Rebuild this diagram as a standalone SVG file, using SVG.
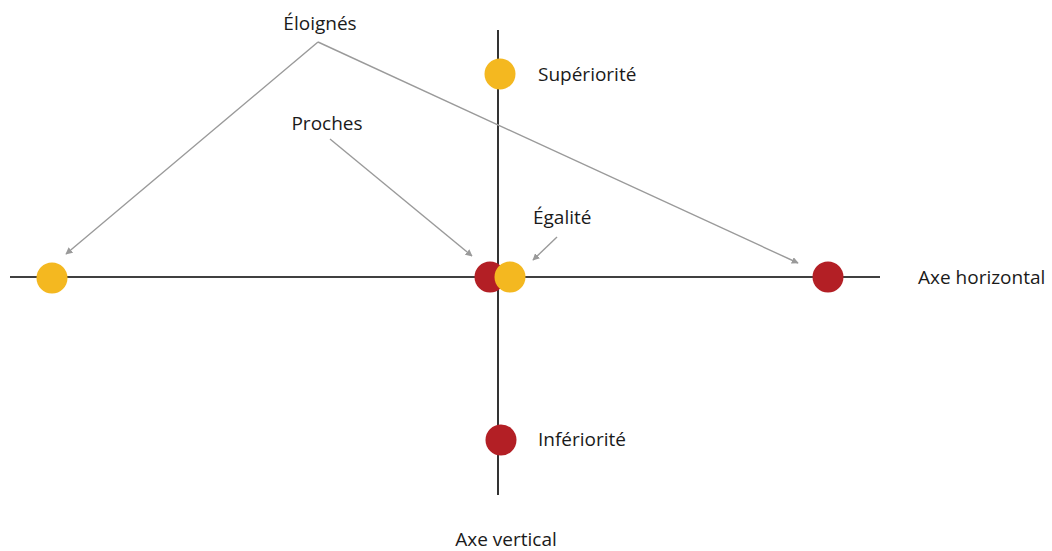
<svg xmlns="http://www.w3.org/2000/svg" width="1052" height="551" viewBox="0 0 1052 551">
<defs>
<style>
.axis{stroke:#000;stroke-width:1.6;fill:none}
.conn{stroke:#9a9a9a;stroke-width:1.4;fill:none}
.lbl{font-family:"Open Sans",Lato,sans-serif;font-size:19px;fill:#1a1a1a}
.y{fill:#F4B820}
.r{fill:#B31F25}
</style>
<marker id="ah" viewBox="0 0 10 10" refX="9" refY="5" markerWidth="7" markerHeight="7" orient="auto" markerUnits="userSpaceOnUse">
<path d="M0,0 L10,5 L0,10 z" fill="#9a9a9a"/>
</marker>
</defs>
<rect width="1052" height="551" fill="#fff"/>
<g id="axes">
<line class="axis" x1="10" y1="277" x2="880" y2="277"/>
<line class="axis" x1="498" y1="30" x2="498" y2="495"/>
</g>
<g id="connectors">
<line class="conn" x1="318" y1="42" x2="66" y2="254" marker-end="url(#ah)"/>
<line class="conn" x1="318" y1="42" x2="798" y2="263" marker-end="url(#ah)"/>
<line class="conn" x1="330" y1="139" x2="472" y2="256" marker-end="url(#ah)"/>
<line class="conn" x1="557" y1="237" x2="533" y2="260" marker-end="url(#ah)"/>
</g>
<g id="n-left"><circle class="y" cx="52" cy="278" r="15.5"/></g>
<g id="n-center-red"><circle class="r" cx="490" cy="277" r="15.5"/></g>
<g id="n-center-yellow"><circle class="y" cx="510" cy="277" r="15.5"/></g>
<g id="n-right"><circle class="r" cx="828" cy="277" r="15.5"/></g>
<g id="n-top"><circle class="y" cx="500" cy="74" r="15.5"/></g>
<g id="n-bottom"><circle class="r" cx="501" cy="440" r="15.5"/></g>
<g id="labels">
<text class="lbl" x="320" y="30" text-anchor="middle">Éloignés</text>
<text class="lbl" x="538" y="81">Supériorité</text>
<text class="lbl" x="327" y="130" text-anchor="middle">Proches</text>
<text class="lbl" x="533" y="224">Égalité</text>
<text class="lbl" x="538" y="446">Infériorité</text>
<text class="lbl" x="918" y="284">Axe horizontal</text>
<text class="lbl" x="506" y="546" text-anchor="middle">Axe vertical</text>
</g>
</svg>
